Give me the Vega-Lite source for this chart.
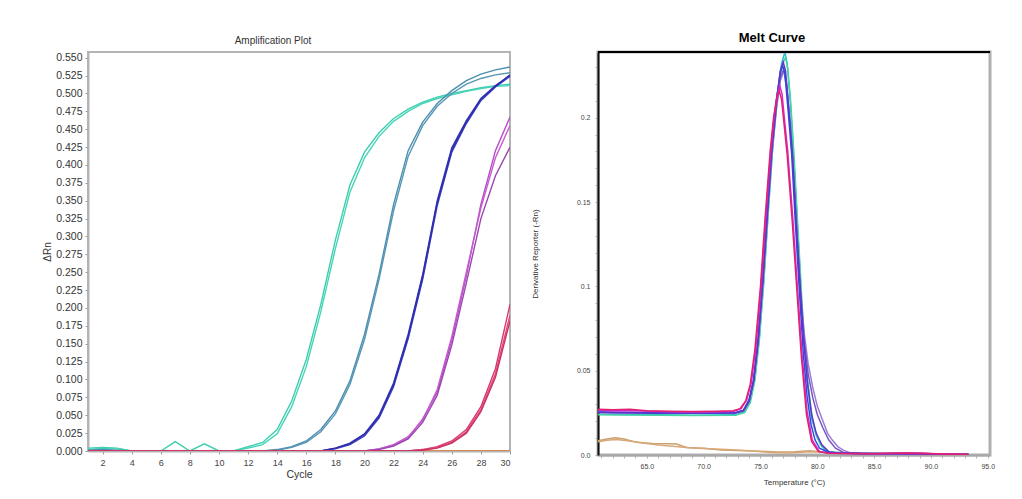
{
"$schema": "https://vega.github.io/schema/vega-lite/v6.json",
"background": "white",
"padding": {"left": 41, "top": 30, "right": 0, "bottom": 0},
"autosize": {"type": "pad"},
"spacing": 17,
"resolve": {"scale": {"color": "independent"}},
"config": {"font": "Liberation Sans", "title": {"anchor": "middle"}},
"datasets": {
"amp": [
{"c":"o1","x":1,"y":0},{"c":"o1","x":30,"y":0},
{"c":"t1","x":1,"y":0.004},{"c":"t1","x":2,"y":0.005},{"c":"t1","x":3,"y":0.004},{"c":"t1","x":4,"y":0},{"c":"t1","x":6,"y":0},{"c":"t1","x":7,"y":0.013},{"c":"t1","x":8,"y":0},{"c":"t1","x":9,"y":0.01},{"c":"t1","x":10,"y":0},{"c":"t1","x":11,"y":0},{"c":"t1","x":12,"y":0.006},{"c":"t1","x":13,"y":0.012},{"c":"t1","x":14,"y":0.03},{"c":"t1","x":15,"y":0.07},{"c":"t1","x":16,"y":0.128},{"c":"t1","x":17,"y":0.205},{"c":"t1","x":18,"y":0.295},{"c":"t1","x":19,"y":0.372},{"c":"t1","x":20,"y":0.418},{"c":"t1","x":21,"y":0.445},{"c":"t1","x":22,"y":0.465},{"c":"t1","x":23,"y":0.478},{"c":"t1","x":24,"y":0.488},{"c":"t1","x":25,"y":0.495},{"c":"t1","x":26,"y":0.5},{"c":"t1","x":27,"y":0.504},{"c":"t1","x":28,"y":0.508},{"c":"t1","x":29,"y":0.511},{"c":"t1","x":30,"y":0.513},
{"c":"t2","x":1,"y":0.002},{"c":"t2","x":2,"y":0.004},{"c":"t2","x":3,"y":0.003},{"c":"t2","x":4,"y":0},{"c":"t2","x":11,"y":0},{"c":"t2","x":12,"y":0.004},{"c":"t2","x":13,"y":0.009},{"c":"t2","x":14,"y":0.024},{"c":"t2","x":15,"y":0.062},{"c":"t2","x":16,"y":0.118},{"c":"t2","x":17,"y":0.195},{"c":"t2","x":18,"y":0.283},{"c":"t2","x":19,"y":0.362},{"c":"t2","x":20,"y":0.41},{"c":"t2","x":21,"y":0.44},{"c":"t2","x":22,"y":0.461},{"c":"t2","x":23,"y":0.475},{"c":"t2","x":24,"y":0.486},{"c":"t2","x":25,"y":0.493},{"c":"t2","x":26,"y":0.498},{"c":"t2","x":27,"y":0.503},{"c":"t2","x":28,"y":0.507},{"c":"t2","x":29,"y":0.51},{"c":"t2","x":30,"y":0.511},
{"c":"s1","x":1,"y":0.001},{"c":"s1","x":2,"y":0.002},{"c":"s1","x":3,"y":0.001},{"c":"s1","x":4,"y":0},{"c":"s1","x":13,"y":0},{"c":"s1","x":14,"y":0.002},{"c":"s1","x":15,"y":0.006},{"c":"s1","x":16,"y":0.014},{"c":"s1","x":17,"y":0.03},{"c":"s1","x":18,"y":0.056},{"c":"s1","x":19,"y":0.098},{"c":"s1","x":20,"y":0.163},{"c":"s1","x":21,"y":0.247},{"c":"s1","x":22,"y":0.345},{"c":"s1","x":23,"y":0.42},{"c":"s1","x":24,"y":0.46},{"c":"s1","x":25,"y":0.486},{"c":"s1","x":26,"y":0.504},{"c":"s1","x":27,"y":0.518},{"c":"s1","x":28,"y":0.527},{"c":"s1","x":29,"y":0.533},{"c":"s1","x":30,"y":0.537},
{"c":"s2","x":1,"y":0},{"c":"s2","x":13,"y":0},{"c":"s2","x":14,"y":0.001},{"c":"s2","x":15,"y":0.005},{"c":"s2","x":16,"y":0.012},{"c":"s2","x":17,"y":0.027},{"c":"s2","x":18,"y":0.052},{"c":"s2","x":19,"y":0.093},{"c":"s2","x":20,"y":0.156},{"c":"s2","x":21,"y":0.24},{"c":"s2","x":22,"y":0.336},{"c":"s2","x":23,"y":0.412},{"c":"s2","x":24,"y":0.455},{"c":"s2","x":25,"y":0.482},{"c":"s2","x":26,"y":0.5},{"c":"s2","x":27,"y":0.513},{"c":"s2","x":28,"y":0.521},{"c":"s2","x":29,"y":0.526},{"c":"s2","x":30,"y":0.529},
{"c":"b1","x":1,"y":0},{"c":"b1","x":17,"y":0},{"c":"b1","x":18,"y":0.004},{"c":"b1","x":19,"y":0.011},{"c":"b1","x":20,"y":0.024},{"c":"b1","x":21,"y":0.05},{"c":"b1","x":22,"y":0.095},{"c":"b1","x":23,"y":0.163},{"c":"b1","x":24,"y":0.247},{"c":"b1","x":25,"y":0.35},{"c":"b1","x":26,"y":0.424},{"c":"b1","x":27,"y":0.462},{"c":"b1","x":28,"y":0.493},{"c":"b1","x":29,"y":0.511},{"c":"b1","x":30,"y":0.525},
{"c":"b2","x":1,"y":0},{"c":"b2","x":17,"y":0},{"c":"b2","x":18,"y":0.003},{"c":"b2","x":19,"y":0.009},{"c":"b2","x":20,"y":0.021},{"c":"b2","x":21,"y":0.046},{"c":"b2","x":22,"y":0.09},{"c":"b2","x":23,"y":0.157},{"c":"b2","x":24,"y":0.24},{"c":"b2","x":25,"y":0.343},{"c":"b2","x":26,"y":0.418},{"c":"b2","x":27,"y":0.458},{"c":"b2","x":28,"y":0.49},{"c":"b2","x":29,"y":0.509},{"c":"b2","x":30,"y":0.524},
{"c":"b3","x":1,"y":0},{"c":"b3","x":17,"y":0},{"c":"b3","x":18,"y":0.004},{"c":"b3","x":19,"y":0.01},{"c":"b3","x":20,"y":0.023},{"c":"b3","x":21,"y":0.048},{"c":"b3","x":22,"y":0.093},{"c":"b3","x":23,"y":0.16},{"c":"b3","x":24,"y":0.244},{"c":"b3","x":25,"y":0.347},{"c":"b3","x":26,"y":0.421},{"c":"b3","x":27,"y":0.46},{"c":"b3","x":28,"y":0.492},{"c":"b3","x":29,"y":0.51},{"c":"b3","x":30,"y":0.526},
{"c":"p1","x":1,"y":0},{"c":"p1","x":20,"y":0},{"c":"p1","x":21,"y":0.003},{"c":"p1","x":22,"y":0.008},{"c":"p1","x":23,"y":0.018},{"c":"p1","x":24,"y":0.045},{"c":"p1","x":25,"y":0.082},{"c":"p1","x":26,"y":0.155},{"c":"p1","x":27,"y":0.245},{"c":"p1","x":28,"y":0.345},{"c":"p1","x":29,"y":0.42},{"c":"p1","x":30,"y":0.467},
{"c":"p2","x":1,"y":0},{"c":"p2","x":20,"y":0},{"c":"p2","x":21,"y":0.003},{"c":"p2","x":22,"y":0.009},{"c":"p2","x":23,"y":0.02},{"c":"p2","x":24,"y":0.043},{"c":"p2","x":25,"y":0.086},{"c":"p2","x":26,"y":0.16},{"c":"p2","x":27,"y":0.25},{"c":"p2","x":28,"y":0.34},{"c":"p2","x":29,"y":0.41},{"c":"p2","x":30,"y":0.455},
{"c":"p3","x":1,"y":0},{"c":"p3","x":20,"y":0},{"c":"p3","x":21,"y":0.002},{"c":"p3","x":22,"y":0.007},{"c":"p3","x":23,"y":0.017},{"c":"p3","x":24,"y":0.04},{"c":"p3","x":25,"y":0.078},{"c":"p3","x":26,"y":0.148},{"c":"p3","x":27,"y":0.235},{"c":"p3","x":28,"y":0.325},{"c":"p3","x":29,"y":0.385},{"c":"p3","x":30,"y":0.425},
{"c":"r1","x":1,"y":0},{"c":"r1","x":23,"y":0},{"c":"r1","x":24,"y":0.002},{"c":"r1","x":25,"y":0.006},{"c":"r1","x":26,"y":0.014},{"c":"r1","x":27,"y":0.03},{"c":"r1","x":28,"y":0.062},{"c":"r1","x":29,"y":0.115},{"c":"r1","x":30,"y":0.205},
{"c":"r2","x":1,"y":0},{"c":"r2","x":23,"y":0},{"c":"r2","x":24,"y":0.002},{"c":"r2","x":25,"y":0.005},{"c":"r2","x":26,"y":0.012},{"c":"r2","x":27,"y":0.027},{"c":"r2","x":28,"y":0.058},{"c":"r2","x":29,"y":0.108},{"c":"r2","x":30,"y":0.19},
{"c":"r3","x":1,"y":0},{"c":"r3","x":23,"y":0},{"c":"r3","x":24,"y":0.001},{"c":"r3","x":25,"y":0.004},{"c":"r3","x":26,"y":0.011},{"c":"r3","x":27,"y":0.025},{"c":"r3","x":28,"y":0.055},{"c":"r3","x":29,"y":0.103},{"c":"r3","x":30,"y":0.182}
],
"melt": [
{"c":"n1","x":60.7,"y":0.0085},{"c":"n1","x":61.5,"y":0.0095},{"c":"n1","x":62.2,"y":0.0102},{"c":"n1","x":63,"y":0.0095},{"c":"n1","x":64.1,"y":0.0075},{"c":"n1","x":65.5,"y":0.0068},{"c":"n1","x":67,"y":0.0066},{"c":"n1","x":67.6,"y":0.0065},{"c":"n1","x":68.5,"y":0.0045},{"c":"n1","x":70,"y":0.004},{"c":"n1","x":71.5,"y":0.003},{"c":"n1","x":73,"y":0.0027},{"c":"n1","x":75,"y":0.0022},{"c":"n1","x":76.5,"y":0.0018},{"c":"n1","x":78,"y":0.002},{"c":"n1","x":79.3,"y":0.0025},{"c":"n1","x":80.5,"y":0.0018},{"c":"n1","x":82,"y":0.0012},{"c":"n1","x":84,"y":0.0009},{"c":"n1","x":86,"y":0.001},{"c":"n1","x":88,"y":0.0014},{"c":"n1","x":90,"y":0.0008},{"c":"n1","x":92,"y":0.0005},{"c":"n1","x":93.3,"y":0.0004},
{"c":"n2","x":60.7,"y":0.0078},{"c":"n2","x":61.5,"y":0.0088},{"c":"n2","x":62.3,"y":0.0092},{"c":"n2","x":63.3,"y":0.0085},{"c":"n2","x":64.5,"y":0.0072},{"c":"n2","x":66,"y":0.006},{"c":"n2","x":67.5,"y":0.005},{"c":"n2","x":69,"y":0.0042},{"c":"n2","x":70.5,"y":0.0037},{"c":"n2","x":72,"y":0.0032},{"c":"n2","x":74,"y":0.0025},{"c":"n2","x":76,"y":0.0015},{"c":"n2","x":77.5,"y":0.0012},{"c":"n2","x":79,"y":0.0018},{"c":"n2","x":80.5,"y":0.002},{"c":"n2","x":82,"y":0.0012},{"c":"n2","x":84,"y":0.001},{"c":"n2","x":86,"y":0.0009},{"c":"n2","x":88,"y":0.0012},{"c":"n2","x":90,"y":0.0007},{"c":"n2","x":93.3,"y":0.0004},
{"c":"m7","x":60.7,"y":0.0242},{"c":"m7","x":63,"y":0.024},{"c":"m7","x":66,"y":0.0238},{"c":"m7","x":69,"y":0.0236},{"c":"m7","x":72.8,"y":0.0238},{"c":"m7","x":73.6,"y":0.0255},{"c":"m7","x":74.1,"y":0.032},{"c":"m7","x":74.5,"y":0.045},{"c":"m7","x":74.9,"y":0.07},{"c":"m7","x":75.3,"y":0.105},{"c":"m7","x":75.7,"y":0.147},{"c":"m7","x":76.1,"y":0.186},{"c":"m7","x":76.5,"y":0.215},{"c":"m7","x":76.85,"y":0.232},{"c":"m7","x":77.15,"y":0.239},{"c":"m7","x":77.35,"y":0.232},{"c":"m7","x":77.6,"y":0.212},{"c":"m7","x":77.9,"y":0.18},{"c":"m7","x":78.3,"y":0.13},{"c":"m7","x":78.7,"y":0.08},{"c":"m7","x":79.1,"y":0.045},{"c":"m7","x":79.5,"y":0.022},{"c":"m7","x":79.9,"y":0.012},{"c":"m7","x":80.3,"y":0.006},{"c":"m7","x":80.8,"y":0.002},{"c":"m7","x":82,"y":0.001},{"c":"m7","x":86,"y":0.0008},{"c":"m7","x":93.3,"y":0.0003},
{"c":"m8","x":60.7,"y":0.0238},{"c":"m8","x":63,"y":0.0237},{"c":"m8","x":66,"y":0.0235},{"c":"m8","x":69,"y":0.0234},{"c":"m8","x":72.8,"y":0.0236},{"c":"m8","x":73.6,"y":0.0252},{"c":"m8","x":74.1,"y":0.031},{"c":"m8","x":74.5,"y":0.044},{"c":"m8","x":74.9,"y":0.068},{"c":"m8","x":75.3,"y":0.103},{"c":"m8","x":75.7,"y":0.145},{"c":"m8","x":76.1,"y":0.184},{"c":"m8","x":76.5,"y":0.213},{"c":"m8","x":76.85,"y":0.23},{"c":"m8","x":77.2,"y":0.236},{"c":"m8","x":77.4,"y":0.229},{"c":"m8","x":77.65,"y":0.21},{"c":"m8","x":77.95,"y":0.178},{"c":"m8","x":78.35,"y":0.128},{"c":"m8","x":78.75,"y":0.079},{"c":"m8","x":79.15,"y":0.044},{"c":"m8","x":79.55,"y":0.022},{"c":"m8","x":79.95,"y":0.011},{"c":"m8","x":80.4,"y":0.005},{"c":"m8","x":81,"y":0.002},{"c":"m8","x":83,"y":0.001},{"c":"m8","x":93.3,"y":0.0003},
{"c":"m6","x":60.7,"y":0.0255},{"c":"m6","x":63,"y":0.0253},{"c":"m6","x":66,"y":0.025},{"c":"m6","x":69,"y":0.025},{"c":"m6","x":72.8,"y":0.0252},{"c":"m6","x":73.5,"y":0.0265},{"c":"m6","x":74,"y":0.032},{"c":"m6","x":74.4,"y":0.044},{"c":"m6","x":74.8,"y":0.067},{"c":"m6","x":75.2,"y":0.1},{"c":"m6","x":75.6,"y":0.14},{"c":"m6","x":76,"y":0.178},{"c":"m6","x":76.4,"y":0.205},{"c":"m6","x":76.75,"y":0.222},{"c":"m6","x":77.05,"y":0.228},{"c":"m6","x":77.3,"y":0.218},{"c":"m6","x":77.6,"y":0.195},{"c":"m6","x":77.9,"y":0.168},{"c":"m6","x":78.2,"y":0.133},{"c":"m6","x":78.5,"y":0.1},{"c":"m6","x":78.85,"y":0.072},{"c":"m6","x":79.2,"y":0.054},{"c":"m6","x":79.6,"y":0.04},{"c":"m6","x":80,"y":0.029},{"c":"m6","x":80.5,"y":0.02},{"c":"m6","x":80.9,"y":0.013},{"c":"m6","x":81.3,"y":0.009},{"c":"m6","x":81.8,"y":0.005},{"c":"m6","x":82.4,"y":0.0025},{"c":"m6","x":83,"y":0.001},{"c":"m6","x":87,"y":0.0009},{"c":"m6","x":93.3,"y":0.0003},
{"c":"m9","x":60.7,"y":0.0253},{"c":"m9","x":63,"y":0.0251},{"c":"m9","x":66,"y":0.0249},{"c":"m9","x":69,"y":0.0248},{"c":"m9","x":72.8,"y":0.025},{"c":"m9","x":73.5,"y":0.0263},{"c":"m9","x":74,"y":0.032},{"c":"m9","x":74.4,"y":0.044},{"c":"m9","x":74.8,"y":0.068},{"c":"m9","x":75.2,"y":0.102},{"c":"m9","x":75.6,"y":0.142},{"c":"m9","x":76,"y":0.18},{"c":"m9","x":76.4,"y":0.207},{"c":"m9","x":76.75,"y":0.224},{"c":"m9","x":77.05,"y":0.229},{"c":"m9","x":77.3,"y":0.22},{"c":"m9","x":77.6,"y":0.197},{"c":"m9","x":77.9,"y":0.168},{"c":"m9","x":78.2,"y":0.132},{"c":"m9","x":78.5,"y":0.098},{"c":"m9","x":78.85,"y":0.068},{"c":"m9","x":79.2,"y":0.048},{"c":"m9","x":79.6,"y":0.034},{"c":"m9","x":80,"y":0.024},{"c":"m9","x":80.5,"y":0.016},{"c":"m9","x":81,"y":0.009},{"c":"m9","x":81.6,"y":0.004},{"c":"m9","x":82.3,"y":0.0015},{"c":"m9","x":85,"y":0.0008},{"c":"m9","x":93.3,"y":0.0003},
{"c":"m4","x":60.7,"y":0.0255},{"c":"m4","x":62,"y":0.0252},{"c":"m4","x":64,"y":0.0252},{"c":"m4","x":66,"y":0.025},{"c":"m4","x":68,"y":0.0248},{"c":"m4","x":70,"y":0.0248},{"c":"m4","x":72.8,"y":0.025},{"c":"m4","x":73.5,"y":0.0265},{"c":"m4","x":74,"y":0.033},{"c":"m4","x":74.4,"y":0.045},{"c":"m4","x":74.8,"y":0.07},{"c":"m4","x":75.2,"y":0.105},{"c":"m4","x":75.6,"y":0.145},{"c":"m4","x":76,"y":0.183},{"c":"m4","x":76.4,"y":0.21},{"c":"m4","x":76.75,"y":0.227},{"c":"m4","x":76.95,"y":0.231},{"c":"m4","x":77.15,"y":0.226},{"c":"m4","x":77.45,"y":0.203},{"c":"m4","x":77.75,"y":0.178},{"c":"m4","x":78.05,"y":0.14},{"c":"m4","x":78.4,"y":0.1},{"c":"m4","x":78.77,"y":0.06},{"c":"m4","x":79.1,"y":0.035},{"c":"m4","x":79.45,"y":0.018},{"c":"m4","x":79.8,"y":0.009},{"c":"m4","x":80.2,"y":0.004},{"c":"m4","x":81,"y":0.0015},{"c":"m4","x":84,"y":0.0008},{"c":"m4","x":88,"y":0.001},{"c":"m4","x":93.3,"y":0.0003},
{"c":"m5","x":60.7,"y":0.0252},{"c":"m5","x":63,"y":0.025},{"c":"m5","x":66,"y":0.0248},{"c":"m5","x":69,"y":0.0247},{"c":"m5","x":72.8,"y":0.0249},{"c":"m5","x":73.5,"y":0.0262},{"c":"m5","x":74,"y":0.032},{"c":"m5","x":74.4,"y":0.044},{"c":"m5","x":74.8,"y":0.068},{"c":"m5","x":75.2,"y":0.103},{"c":"m5","x":75.6,"y":0.143},{"c":"m5","x":76,"y":0.182},{"c":"m5","x":76.4,"y":0.21},{"c":"m5","x":76.75,"y":0.228},{"c":"m5","x":77,"y":0.233},{"c":"m5","x":77.2,"y":0.228},{"c":"m5","x":77.5,"y":0.205},{"c":"m5","x":77.8,"y":0.18},{"c":"m5","x":78.1,"y":0.143},{"c":"m5","x":78.45,"y":0.104},{"c":"m5","x":78.8,"y":0.068},{"c":"m5","x":79.15,"y":0.042},{"c":"m5","x":79.5,"y":0.024},{"c":"m5","x":79.9,"y":0.013},{"c":"m5","x":80.4,"y":0.006},{"c":"m5","x":81,"y":0.002},{"c":"m5","x":82,"y":0.001},{"c":"m5","x":86,"y":0.0008},{"c":"m5","x":93.3,"y":0.0003},
{"c":"m2","x":60.7,"y":0.0265},{"c":"m2","x":62,"y":0.0262},{"c":"m2","x":64,"y":0.0262},{"c":"m2","x":66,"y":0.0258},{"c":"m2","x":68,"y":0.0255},{"c":"m2","x":70,"y":0.0255},{"c":"m2","x":72.6,"y":0.0258},{"c":"m2","x":73.3,"y":0.0275},{"c":"m2","x":73.8,"y":0.033},{"c":"m2","x":74.2,"y":0.043},{"c":"m2","x":74.6,"y":0.064},{"c":"m2","x":75.05,"y":0.1},{"c":"m2","x":75.45,"y":0.14},{"c":"m2","x":75.9,"y":0.18},{"c":"m2","x":76.2,"y":0.201},{"c":"m2","x":76.5,"y":0.214},{"c":"m2","x":76.7,"y":0.219},{"c":"m2","x":76.9,"y":0.214},{"c":"m2","x":77.1,"y":0.2},{"c":"m2","x":77.4,"y":0.18},{"c":"m2","x":77.85,"y":0.14},{"c":"m2","x":78.25,"y":0.1},{"c":"m2","x":78.65,"y":0.06},{"c":"m2","x":79.1,"y":0.026},{"c":"m2","x":79.55,"y":0.009},{"c":"m2","x":80.2,"y":0.002},{"c":"m2","x":81,"y":0.001},{"c":"m2","x":85,"y":0.0008},{"c":"m2","x":89,"y":0.001},{"c":"m2","x":93.3,"y":0.0003},
{"c":"m1","x":60.7,"y":0.0272},{"c":"m1","x":62,"y":0.0268},{"c":"m1","x":63.5,"y":0.0272},{"c":"m1","x":65,"y":0.0262},{"c":"m1","x":67,"y":0.026},{"c":"m1","x":69,"y":0.0258},{"c":"m1","x":71,"y":0.026},{"c":"m1","x":72.6,"y":0.0262},{"c":"m1","x":73.2,"y":0.0275},{"c":"m1","x":73.7,"y":0.032},{"c":"m1","x":74.1,"y":0.042},{"c":"m1","x":74.5,"y":0.062},{"c":"m1","x":75,"y":0.1},{"c":"m1","x":75.4,"y":0.14},{"c":"m1","x":75.85,"y":0.18},{"c":"m1","x":76.15,"y":0.2},{"c":"m1","x":76.45,"y":0.213},{"c":"m1","x":76.65,"y":0.216},{"c":"m1","x":76.85,"y":0.211},{"c":"m1","x":77.05,"y":0.198},{"c":"m1","x":77.35,"y":0.178},{"c":"m1","x":77.8,"y":0.138},{"c":"m1","x":78.2,"y":0.098},{"c":"m1","x":78.6,"y":0.058},{"c":"m1","x":79.05,"y":0.024},{"c":"m1","x":79.5,"y":0.008},{"c":"m1","x":80.1,"y":0.002},{"c":"m1","x":81,"y":0.001},{"c":"m1","x":84,"y":0.0008},{"c":"m1","x":88,"y":0.0012},{"c":"m1","x":91,"y":0.0006},{"c":"m1","x":93.3,"y":0.0003}
]
},
"hconcat": [
{
"title": {"text": "Amplification Plot", "fontSize": 10, "fontWeight": "normal", "color": "#333333", "offset": 6, "dx": -26},
"width": 422, "height": 399,
"view": {"stroke": "#b4b4b4", "strokeWidth": 2},
"data": {"name": "amp"},
"mark": {"type": "line", "strokeWidth": 1.4, "clip": true},
"encoding": {
"x": {"field": "x", "type": "quantitative", "scale": {"domain": [1, 30], "nice": false, "zero": false},
"axis": {"values": [2,4,6,8,10,12,14,16,18,20,22,24,26,28,30], "title": "Cycle", "grid": false, "domainColor": "#b4b4b4", "domainWidth": 2, "tickColor": "#999999", "tickSize": 3, "labelColor": "#444444", "labelFontSize": 9, "labelPadding": 4, "titleFontSize": 10.5, "titleFontWeight": "normal", "titleColor": "#333333", "titlePadding": 2}},
"y": {"field": "y", "type": "quantitative", "scale": {"domain": [0, 0.558], "nice": false},
"axis": {"values": [0,0.025,0.05,0.075,0.1,0.125,0.15,0.175,0.2,0.225,0.25,0.275,0.3,0.325,0.35,0.375,0.4,0.425,0.45,0.475,0.5,0.525,0.55], "format": ".3f", "title": "ΔRn", "grid": false, "domainColor": "#b4b4b4", "domainWidth": 2, "tickColor": "#999999", "tickSize": 3, "labelColor": "#333333", "labelFontSize": 10.5, "labelPadding": 3, "labelOverlap": false, "titleFontSize": 10, "titleFontWeight": "normal", "titleColor": "#333333", "titlePadding": 3}},
"color": {"field": "c", "type": "nominal", "legend": null,
"scale": {"domain": ["o1","t1","t2","s1","s2","b1","b2","b3","p1","p2","p3","r1","r2","r3"],
"range": ["#e87a30","#3ccfae","#46d3b8","#4a8fae","#5796b4","#3434bf","#4040c8","#2f2fa8","#b54ac8","#c85ad0","#9a48b0","#d83a6e","#e2457e","#c8325c"]}}
}
},
{
"title": {"text": "Melt Curve", "fontSize": 13, "fontWeight": "bold", "color": "#000000", "offset": 6, "dx": -22},
"width": 392, "height": 403,
"view": {"stroke": "#b0b0b0", "strokeWidth": 3},
"layer": [
{
"data": {"name": "melt"},
"mark": {"type": "line", "strokeWidth": 1.5, "clip": true},
"encoding": {
"x": {"field": "x", "type": "quantitative", "scale": {"domain": [60.7, 95.2], "nice": false, "zero": false},
"axis": {"values": [61,62,63,64,65,66,67,68,69,70,71,72,73,74,75,76,77,78,79,80,81,82,83,84,85,86,87,88,89,90,91,92,93,94,95], "labelExpr": "datum.value % 5 == 0 ? format(datum.value, '.1f') : ''", "labelOverlap": false, "title": "Temperature (°C)", "grid": false, "domainColor": "#a8a8a8", "domainWidth": 2, "tickColor": "#b0b0b0", "tickSize": 3, "labelColor": "#444444", "labelFontSize": 7, "labelPadding": 4, "titleFontSize": 8, "titleFontWeight": "normal", "titleColor": "#333333", "titlePadding": 9}},
"y": {"field": "y", "type": "quantitative", "scale": {"domain": [0, 0.239], "nice": false},
"axis": {"values": [0,0.01,0.02,0.03,0.04,0.05,0.06,0.07,0.08,0.09,0.1,0.11,0.12,0.13,0.14,0.15,0.16,0.17,0.18,0.19,0.2,0.21,0.22,0.23], "labelExpr": "datum.value == 0 ? '0.0' : datum.value == 0.05 ? '0.05' : datum.value == 0.1 ? '0.1' : datum.value == 0.15 ? '0.15' : datum.value == 0.2 ? '0.2' : ''", "labelOverlap": false, "title": "Derivative Reporter (-Rn)", "grid": false, "domainColor": "#111111", "domainWidth": 2, "tickColor": "#b0b0b0", "tickSize": 3, "labelColor": "#444444", "labelFontSize": 7, "labelPadding": 5, "titleFontSize": 8, "titleFontWeight": "normal", "titleColor": "#333333", "titlePadding": 37}},
"color": {"field": "c", "type": "nominal", "legend": null,
"scale": {"domain": ["n1","n2","m7","m8","m6","m9","m4","m5","m2","m1"],
"range": ["#c9a06e","#d8a878","#28b8d8","#48d2a4","#9c7ed6","#7a56c4","#2a4de0","#5a36c8","#d22ad2","#e3206e"]}}
}
},
{
"data": {"values": [{}]},
"mark": {"type": "rule", "color": "#000000", "strokeWidth": 2},
"encoding": {"y": {"datum": 0.239, "type": "quantitative",
"axis": {"values": [0,0.01,0.02,0.03,0.04,0.05,0.06,0.07,0.08,0.09,0.1,0.11,0.12,0.13,0.14,0.15,0.16,0.17,0.18,0.19,0.2,0.21,0.22,0.23], "labelExpr": "datum.value == 0 ? '0.0' : datum.value == 0.05 ? '0.05' : datum.value == 0.1 ? '0.1' : datum.value == 0.15 ? '0.15' : datum.value == 0.2 ? '0.2' : ''", "labelOverlap": false, "title": "Derivative Reporter (-Rn)", "grid": false, "domainColor": "#111111", "domainWidth": 2, "tickColor": "#b0b0b0", "tickSize": 3, "labelColor": "#444444", "labelFontSize": 7, "labelPadding": 5, "titleFontSize": 8, "titleFontWeight": "normal", "titleColor": "#333333", "titlePadding": 37}}}
}
]
}
]
}
